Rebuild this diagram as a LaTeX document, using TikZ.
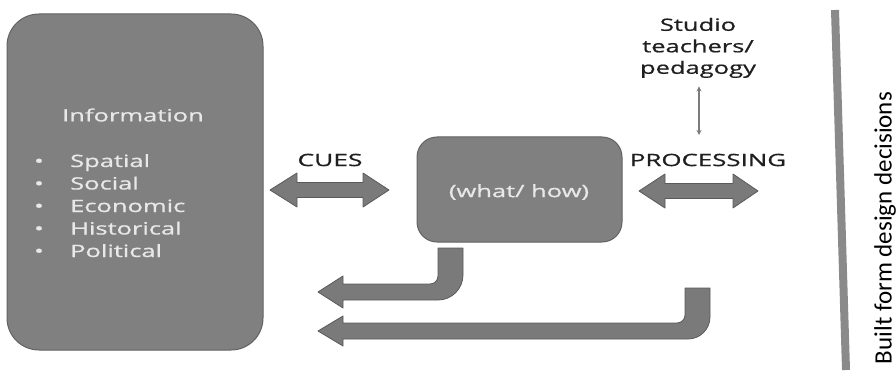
\documentclass[tikz,border=0pt]{standalone}
\usepackage{fontspec}
\setmainfont{Open Sans}
\newfontfamily\opmed{Open Sans}[FakeBold=0.7]
\newfontfamily\carl{Carlito}
\usepackage{graphicx}
\usetikzlibrary{arrows.meta}
\definecolor{boxfill}{HTML}{808080}
\definecolor{boxline}{HTML}{626262}
\definecolor{arrfill}{HTML}{7A7A7A}
\definecolor{arrline}{HTML}{5A5A5A}
\definecolor{intext}{HTML}{E8E8E8}
\definecolor{outtext}{HTML}{1F1F1F}
\definecolor{barcol}{HTML}{8A8A8A}
\begin{document}
\begin{tikzpicture}[x=1pt,y=-1pt,
  panel/.style={fill=boxfill,draw=boxline,line width=1pt},
  bigarrow/.style={fill=arrfill,draw=arrline,line width=0.8pt,line join=round},
  intxt/.style={text=intext,font=\opmed\fontsize{17}{20}\selectfont,inner sep=0pt},
  outtxt/.style={text=outtext,font=\opmed\fontsize{17}{20}\selectfont,inner sep=0pt}]
\useasboundingbox (0,0) rectangle (896,374);
% boxes
\draw[panel,rounded corners=32pt] (7,14) rectangle (263,350);
\node[intxt] (info) at (133,115) {\scalebox{1.5}[1]{Information}};
\foreach \t [count=\i] in {Spatial,Social,Economic,Historical,Political}{
  \node[intxt,anchor=base] (bul\i) at (39,{161+22.5*(\i-1)+6}) {\scalebox{1.5}[1]{\textbullet}};
  \node[intxt,anchor=base west] (item\i) at (70,{161+22.5*(\i-1)+6}) {\scalebox{1.5}[1]{\t}};
}
\draw[panel,rounded corners=20pt] (417,137) rectangle (622,242);
\node[intxt] (wh) at (519,192) {\scalebox{1.5}[1]{(what/ how)}};
% labels
\node[outtxt] (cues) at (330,160) {\scalebox{1.55}[1]{CUES}};
\node[outtxt] (proc) at (708,160) {\scalebox{1.52}[1]{PROCESSING}};
\node[outtxt] (studio) at (698,48) {\scalebox{1.5}[1]{\fontsize{17}{21.5}\selectfont\begin{tabular}{@{}c@{}}Studio\\teachers/\\pedagogy\end{tabular}}};
\coordinate (ax) at (699,141);
\draw[<->,>={Stealth[length=5pt,width=5pt]},draw=barcol!90!black,line width=1.1pt,shorten <=6pt,shorten >=6pt]
  (studio.south -| ax) -- (ax);
% double arrows
\draw[bigarrow] (270,190) -- (297,173) -- (297,182.5) -- (363,182.5) -- (363,173) -- (389,190)
  -- (363,207) -- (363,197.5) -- (297,197.5) -- (297,207) -- cycle;
\draw[bigarrow] (639,191) -- (665,174) -- (665,183.5) -- (733,183.5) -- (733,174) -- (758,191)
  -- (733,208) -- (733,198.5) -- (665,198.5) -- (665,208) -- cycle;
% bent arrow 1
\draw[bigarrow] (438,248) -- (463,248) -- (463,275) .. controls (463,288.8) and (451.8,300) .. (438,300)
  -- (343,300) -- (343,308) -- (318,292) -- (343,276) -- (343,284) -- (430,284)
  .. controls (434.4,284) and (438,280.4) .. (438,276) -- cycle;
% bent arrow 2
\draw[bigarrow] (685,288) -- (710,288) -- (710,317) .. controls (710,329.1) and (700.1,339) .. (688,339)
  -- (343,339) -- (343,346) -- (318,331) -- (343,316) -- (343,323) -- (677,323)
  .. controls (681.4,323) and (685,319.4) .. (685,315) -- cycle;
% vertical bar
\coordinate (bartop) at (835,10);
\coordinate (barbot) at (846,370);
\draw[barcol,line width=8pt] (bartop) -- (barbot);
\node[text=black,inner sep=0pt,rotate=90,font=\carl\fontsize{25}{30}\selectfont] (built) at (885,228) {Built form design decisions};
\end{tikzpicture}
\end{document}
